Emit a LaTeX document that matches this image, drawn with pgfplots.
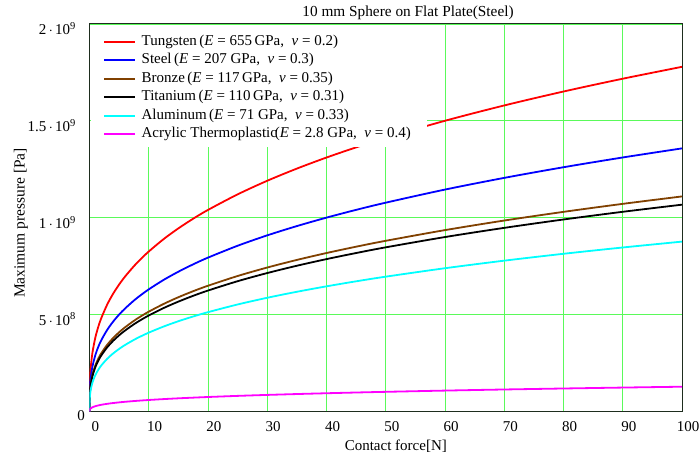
\documentclass[border=0pt]{standalone}
\usepackage{fontspec}
\setmainfont{Liberation Serif}
\usepackage{pgfplots}
\pgfplotsset{compat=1.18}
\definecolor{gridgreen}{RGB}{90,250,90}
\definecolor{cTung}{RGB}{255,0,0}
\definecolor{cSteel}{RGB}{0,0,255}
\definecolor{cBronze}{RGB}{128,64,0}
\definecolor{cTit}{RGB}{0,0,0}
\definecolor{cAlu}{RGB}{0,255,255}
\definecolor{cAcr}{RGB}{255,0,255}
\definecolor{framec}{RGB}{30,45,30}
\pgfplotsset{legend image code/.code={\draw[#1] (0pt,0pt) -- (31pt,0pt);}}
\begin{document}
\begin{tikzpicture}
\useasboundingbox (-89.5pt,-45.5pt) rectangle (609.5pt,411.5pt);
\begin{axis}[
  scale only axis, width=592.5pt, height=387.5pt,
  xmin=0, xmax=100, ymin=0, ymax=2,
  xtick={0,10,...,100},
  ytick={0,0.5,1,1.5,2},
  yticklabels={0, 5$\,\cdot\,$10\textsuperscript{8}\hspace*{9pt}, 1$\,\cdot\,$10\textsuperscript{9}\hspace*{9pt}, 1.5$\,\cdot\,$10\textsuperscript{9}\hspace*{9pt}, 2$\,\cdot\,$10\textsuperscript{9}\hspace*{9pt}},
  major tick length=0pt,
  grid=major,
  grid style={gridgreen, line width=0.8pt},
  axis line style={framec, line width=1pt},
  /pgf/number format/assume math mode=true,
  tick label style={font=\fontsize{15}{17}\selectfont},
  xticklabel style={xshift=6pt, yshift=-6pt},
  yticklabel style={yshift=-4.5pt, xshift=-1pt},
  every axis title shift=0pt,
  title={10 mm Sphere on Flat Plate(Steel)},
  title style={at={(axis description cs:0.5376,1.0284)}, anchor=center, yshift=0pt, font=\fontsize{15.3}{17}\selectfont},
  xlabel={Contact force[N]},
  xlabel style={at={(axis description cs:0.517,-0.089)}, anchor=center, font=\fontsize{15}{17}\selectfont},
  ylabel={Maximum pressure [Pa]},
  ylabel style={at={(axis description cs:-0.1156,0.4865)}, anchor=center, rotate=0, font=\fontsize{15.5}{17}\selectfont},
  legend cell align=left,
  legend style={at={(axis description cs:0.018,0.979)}, anchor=north west, draw=none, fill=none,
    font=\fontsize{15}{17}\selectfont, row sep=3.45pt,
    nodes={inner ysep=0pt, inner xsep=5.5pt, text height=11pt, text depth=4pt}},
]
\addplot[cTung, line width=1.8pt, smooth] coordinates {(0,0) (0.002,0.0483) (0.01,0.0826) (0.05,0.1412) (0.1,0.1779) (0.2,0.2241) (0.5,0.3042) (1,0.3833) (1.5,0.4387) (2,0.4829) (3,0.5528) (4,0.6084) (5,0.6554) (6,0.6965) (7.5,0.7502) (8.5,0.7822) (10,0.8257) (12.5,0.8895) (15,0.9452) (17.5,0.9951) (20,1.0404) (25,1.1207) (30,1.1909) (35,1.2537) (40,1.3108) (45,1.3633) (50,1.4120) (60,1.5005) (70,1.5796) (80,1.6515) (90,1.7176) (100,1.779)};
\addlegendentry{Tungsten\,(\textit{E} = 655\,GPa,\ \ \textit{ν} = 0.2)}
\addplot[cSteel, line width=1.8pt, smooth] coordinates {(0,0) (0.002,0.0369) (0.01,0.0630) (0.05,0.1078) (0.1,0.1358) (0.2,0.1711) (0.5,0.2322) (1,0.2926) (1.5,0.3349) (2,0.3686) (3,0.4220) (4,0.4644) (5,0.5003) (6,0.5316) (7.5,0.5727) (8.5,0.5971) (10,0.6303) (12.5,0.6790) (15,0.7215) (17.5,0.7596) (20,0.7942) (25,0.8555) (30,0.9091) (35,0.9570) (40,1.0006) (45,1.0407) (50,1.0778) (60,1.1454) (70,1.2058) (80,1.2607) (90,1.3111) (100,1.358)};
\addlegendentry{Steel\,(\textit{E} = 207 GPa,\ \ \textit{ν} = 0.3)}
\addplot[cBronze, line width=1.8pt, smooth] coordinates {(0,0) (0.002,0.0301) (0.01,0.0515) (0.05,0.0881) (0.1,0.1110) (0.2,0.1399) (0.5,0.1898) (1,0.2391) (1.5,0.2737) (2,0.3013) (3,0.3449) (4,0.3796) (5,0.4089) (6,0.4346) (7.5,0.4681) (8.5,0.4880) (10,0.5152) (12.5,0.5550) (15,0.5898) (17.5,0.6209) (20,0.6491) (25,0.6993) (30,0.7431) (35,0.7823) (40,0.8179) (45,0.8506) (50,0.8810) (60,0.9362) (70,0.9856) (80,1.0304) (90,1.0717) (100,1.110)};
\addlegendentry{Bronze\,(\textit{E} = 117\,GPa,\ \ \textit{ν} = 0.35)}
\addplot[cTit, line width=1.8pt, smooth] coordinates {(0,0) (0.002,0.0290) (0.01,0.0495) (0.05,0.0847) (0.1,0.1068) (0.2,0.1345) (0.5,0.1825) (1,0.2300) (1.5,0.2633) (2,0.2898) (3,0.3317) (4,0.3651) (5,0.3933) (6,0.4179) (7.5,0.4502) (8.5,0.4694) (10,0.4955) (12.5,0.5338) (15,0.5672) (17.5,0.5971) (20,0.6243) (25,0.6725) (30,0.7146) (35,0.7523) (40,0.7865) (45,0.8180) (50,0.8473) (60,0.9004) (70,0.9478) (80,0.9910) (90,1.0307) (100,1.0675)};
\addlegendentry{Titanium\,(\textit{E} = 110\,GPa,\ \ \textit{ν} = 0.31)}
\addplot[cAlu, line width=1.8pt, smooth] coordinates {(0,0) (0.002,0.0238) (0.01,0.0407) (0.05,0.0696) (0.1,0.0877) (0.2,0.1105) (0.5,0.1499) (1,0.1889) (1.5,0.2162) (2,0.2380) (3,0.2724) (4,0.2999) (5,0.3230) (6,0.3433) (7.5,0.3698) (8.5,0.3855) (10,0.4070) (12.5,0.4384) (15,0.4659) (17.5,0.4904) (20,0.5127) (25,0.5524) (30,0.5870) (35,0.6179) (40,0.6460) (45,0.6719) (50,0.6959) (60,0.7395) (70,0.7785) (80,0.8140) (90,0.8465) (100,0.8768)};
\addlegendentry{Aluminum\,(\textit{E} = 71 GPa,\ \ \textit{ν} = 0.33)}
\addplot[cAcr, line width=1.8pt, smooth] coordinates {(0,0) (0.002,0.0035) (0.01,0.0059) (0.05,0.0102) (0.1,0.0128) (0.2,0.0161) (0.5,0.0219) (1,0.0276) (1.5,0.0315) (2,0.0347) (3,0.0397) (4,0.0437) (5,0.0471) (6,0.0501) (7.5,0.0539) (8.5,0.0562) (10,0.0594) (12.5,0.0640) (15,0.0680) (17.5,0.0715) (20,0.0748) (25,0.0806) (30,0.0856) (35,0.0901) (40,0.0942) (45,0.0980) (50,0.1015) (60,0.1079) (70,0.1136) (80,0.1187) (90,0.1235) (100,0.1279)};
\addlegendentry{Acrylic Thermoplastic\kern-0.15em(\textit{E} = 2.8 GPa,\ \ \textit{ν} = 0.4)}
\fill[white] (axis cs:0.3,1.996) rectangle (axis cs:57,1.365);
\end{axis}
\end{tikzpicture}
\end{document}
